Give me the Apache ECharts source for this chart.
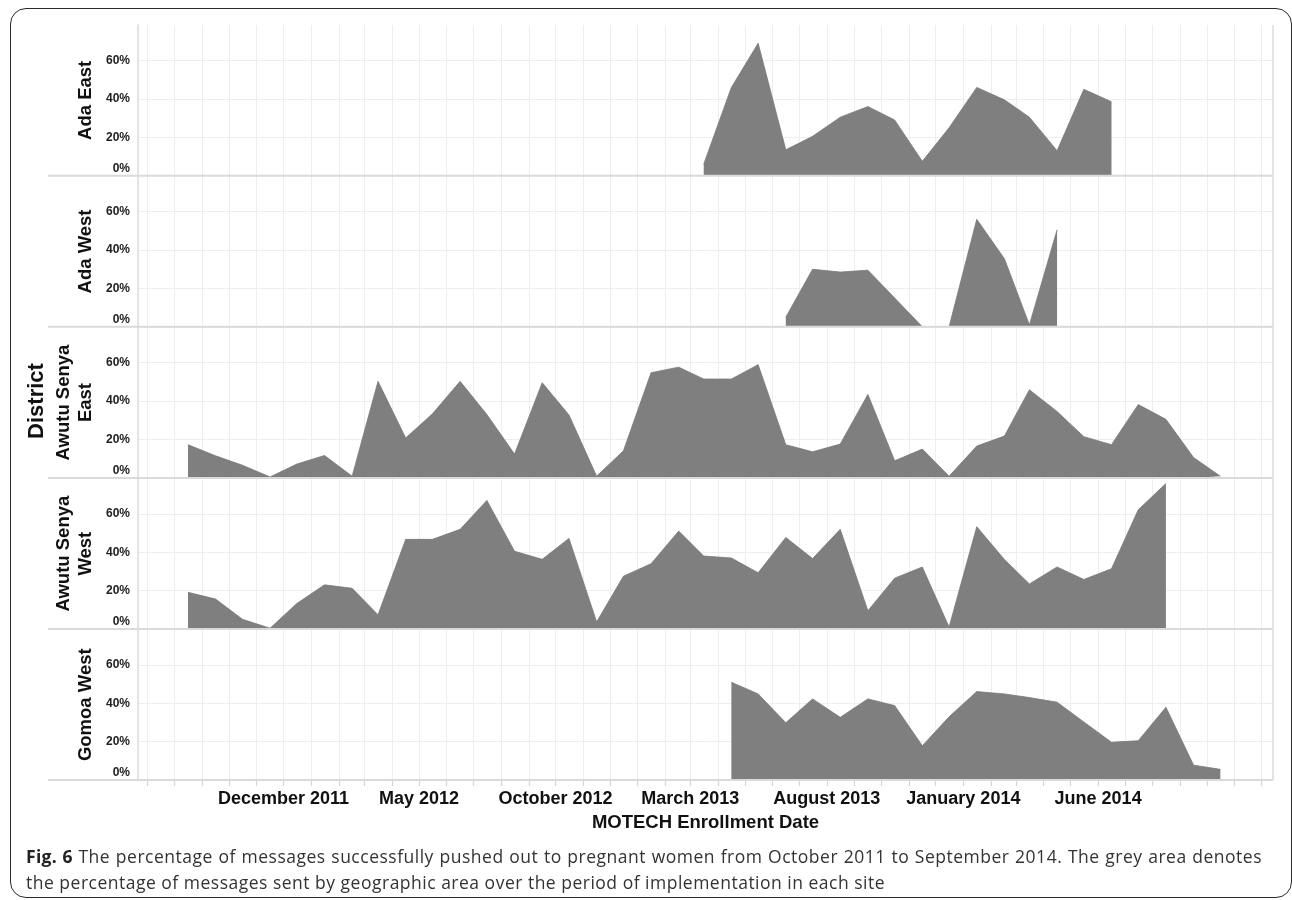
<!DOCTYPE html>
<html><head><meta charset="utf-8">
<script src="https://cdn.jsdelivr.net/npm/echarts@6/dist/echarts.min.js"></script>
<style>
html,body{margin:0;padding:0;background:#fff;}
#wrap{position:relative;width:1292px;height:900px;overflow:hidden;background:#fff;}
#chart{position:absolute;left:0;top:0;width:1292px;height:900px;}
#frame{position:absolute;left:10px;top:8px;width:1282px;height:890px;border:1.5px solid #2a2a2a;border-radius:16px;box-sizing:border-box;pointer-events:none;}
#caption{position:absolute;left:26px;top:843px;width:1236px;font-family:'Open Sans',sans-serif;font-size:17.5px;letter-spacing:0.5px;line-height:26px;color:#333;text-align:justify;}
#caption b{font-weight:700;color:#222;letter-spacing:0.3px;}
</style></head>
<body>
<div id="wrap">
<div id="chart"></div>
<div id="frame"></div>
<div id="caption"><b>Fig. 6</b> The percentage of messages successfully pushed out to pregnant women from October 2011 to September 2014. The grey area denotes the percentage of messages sent by geographic area over the period of implementation in each site</div>
</div>
<script>
// ---- data ----
const months = ['2011-08','2011-09','2011-10','2011-11','2011-12',
  '2012-01','2012-02','2012-03','2012-04','2012-05','2012-06','2012-07','2012-08','2012-09','2012-10','2012-11','2012-12',
  '2013-01','2013-02','2013-03','2013-04','2013-05','2013-06','2013-07','2013-08','2013-09','2013-10','2013-11','2013-12',
  '2014-01','2014-02','2014-03','2014-04','2014-05','2014-06','2014-07','2014-08','2014-09','2014-10'];
const districts = ['Ada East','Ada West','Awutu Senya\nEast','Awutu Senya\nWest','Gomoa West'];
const adaEast = [null,null,null,null,null,null,null,null,null,null,null,null,null,null,null,null,null,null,null,
  6,46,69,13.5,20.5,30.5,36,29,7.5,25,46,39.5,30.5,13,45,38.5,null,null,null,null];
const adaWest = [null,null,null,null,null,null,null,null,null,null,null,null,null,null,null,null,null,null,null,null,null,null,
  5,30,28.5,29.5,15,0,0,56,35.5,1,50.5,null,null,null,null,null,null];
const awutuEast = [17.3,11.5,6.6,0.5,7.2,11.7,0.9,50.3,20.8,33.4,50.3,33,12.4,49.6,32.8,0.9,14.1,54.8,57.7,
  51.5,51.5,59,17.3,13.6,17.6,43.5,8.9,15,0.9,16.6,21.8,45.9,34.6,21.5,17.3,38.2,30.5,10.6,0.9];
const awutuWest = [19.1,15.6,5.1,0.4,13.3,23,21.2,7.4,46.7,46.7,51.9,67,40.5,36.3,47.2,3.7,27.5,34,51,
  38,37,29.3,47.7,36.7,51.9,9.5,26.5,32.3,1,53.3,36.2,23.5,32.3,25.8,31.4,62.1,75.8,null,null];
const gomoaWest = [null,null,null,null,null,null,null,null,null,null,null,null,null,null,null,null,null,null,null,null,
  51,44.9,29.9,42.3,32.7,42.3,38.8,17.9,33,46.1,44.9,43,40.6,30.3,19.7,20.5,38,7.8,5.6];
const seriesValues = [adaEast, adaWest, awutuEast, awutuWest, gomoaWest];
const tickLabelMonths = ['2011-12','2012-05','2012-10','2013-03','2013-08','2014-01','2014-06'];
const tickLabels = ['December 2011','May 2012','October 2012','March 2013','August 2013','January 2014','June 2014'];
const yTicks = [0,20,40,60];

// ---- helpers ----
function ts(m, day){ const p = m.split('-'); return Date.UTC(+p[0], +p[1]-1, day); }
const X_MIN = Date.UTC(2011,5,21), X_MAX = Date.UTC(2014,11,14);
const monthTicks = [];
for (let y = 2011, mo = 6; y < 2015; ) { monthTicks.push(Date.UTC(y, mo, 1)); mo++; if (mo > 11) { mo = 0; y++; } if (y === 2014 && mo > 11) break; }
const labelTicks = tickLabelMonths.map(m => ts(m,1));
function xLabel(v){ const i = labelTicks.indexOf(v); return i >= 0 ? tickLabels[i] : ''; }

const LEFT = 138, RIGHT = 1273, TOP0 = 25, STEP = 151.1, H = 150.7;
const FONT = '"Liberation Sans", Arial, sans-serif';

const chart = echarts.init(document.getElementById('chart'), null, {renderer:'canvas'});
const grid = [], xAxis = [], yAxis = [], series = [], graphic = [];
for (let i = 0; i < 5; i++) {
  const last = i === 4;
  grid.push({left: LEFT, width: RIGHT - LEFT, top: TOP0 + STEP*i, height: H});
  xAxis.push({
    gridIndex: i, type: 'value', min: X_MIN, max: X_MAX,
    axisLine: {show: false},
    axisTick: {show: last, customValues: monthTicks, length: 6, lineStyle: {color: '#d6d6d6', width: 1.2}},
    axisLabel: {show: last, customValues: labelTicks, formatter: xLabel, fontFamily: FONT, fontWeight: 'bold', fontSize: 18, color: '#111', margin: 10},
    splitLine: {show: true, lineStyle: {color: '#eeeeee', width: 1}},
    name: last ? 'MOTECH Enrollment Date' : '', nameLocation: 'middle', nameGap: 33,
    nameTextStyle: {fontFamily: FONT, fontWeight: 'bold', fontSize: 18.5, color: '#111'}
  });
  yAxis.push({
    gridIndex: i, type: 'value', min: 0, max: 78.5,
    axisLine: {show: true, lineStyle: {color: '#dddddd', width: 1.6}},
    axisTick: {show: false, customValues: yTicks},
    axisLabel: {customValues: yTicks, margin: 8, fontFamily: FONT, fontWeight: 'bold', fontSize: 12, color: '#222',
      formatter: v => v === 0 ? '{z|0%}' : v + '%',
      rich: {z: {fontFamily: FONT, fontWeight: 'bold', fontSize: 12, color: '#222', padding: [0,0,15,0]}}},
    splitLine: {show: true, lineStyle: {color: '#eeeeee', width: 1}}
  });
  const vals = seriesValues[i];
  const data = [];
  months.forEach((m, k) => { if (vals[k] != null) data.push([ts(m,16), vals[k]]); });
  series.push({
    type: 'line', xAxisIndex: i, yAxisIndex: i, data: data, symbol: 'none', silent: true,
    lineStyle: {width: 0.8, color: '#787878'}, areaStyle: {color: '#7f7f7f', opacity: 1}
  });
  const bottom = TOP0 + STEP*i + H;
  graphic.push({type: 'line', z: 100, shape: {x1: 48, y1: bottom, x2: RIGHT, y2: bottom}, style: {stroke: '#dadada', lineWidth: 2}});
  const two = districts[i].indexOf('\n') >= 0;
  graphic.push({type: 'text', z: 100, x: two ? 75 : 86, y: TOP0 + STEP*i + H/2, rotation: Math.PI/2,
    style: {text: districts[i], align: 'center', verticalAlign: 'middle', font: 'bold 18.5px ' + FONT, fill: '#111', lineHeight: 22}});
}
graphic.push({type: 'line', z: 100, shape: {x1: RIGHT, y1: TOP0, x2: RIGHT, y2: TOP0 + STEP*4 + H}, style: {stroke: '#dddddd', lineWidth: 1.6}});
graphic.push({type: 'text', z: 100, x: 37, y: 401, rotation: Math.PI/2,
  style: {text: 'District', align: 'center', verticalAlign: 'middle', font: 'bold 22px ' + FONT, fill: '#111'}});

chart.setOption({animation: false, grid, xAxis, yAxis, series, graphic});
</script>
</body></html>
